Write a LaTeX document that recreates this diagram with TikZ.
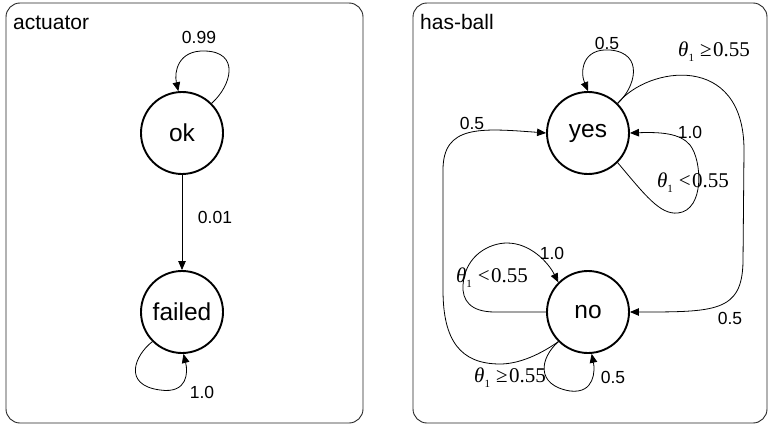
\documentclass[tikz,border=0pt]{standalone}
\usepackage{fontspec}
\setmainfont{Liberation Sans}
\newfontfamily\lblserif{Liberation Serif}
\usetikzlibrary{arrows.meta}

% condition labels: theta with subscript 1
\newcommand{\thetaone}{\textit{θ}\raisebox{-0.5ex}{\fontsize{11}{11}\selectfont 1}}

\tikzset{
  panel/.style={draw=black!85, line width=0.9pt, rounded corners=14pt},
  title/.style={anchor=base west, inner sep=0pt, font=\fontsize{21}{25}\selectfont},
  state/.style={circle, draw, line width=1.9pt, minimum size=82pt, inner sep=0pt,
                font=\fontsize{24.5}{28}\selectfont},
  trans/.style={line width=0.8pt, -{Triangle[length=9pt,width=7.5pt]}},
  prob/.style={inner sep=0pt, font=\fontsize{17.5}{20}\selectfont},
  cond/.style={inner sep=0pt, font=\lblserif\fontsize{21}{24}\selectfont}
}

\begin{document}
\begin{tikzpicture}[x=1pt, y=-1pt]
  \useasboundingbox[fill=white] (0,0) rectangle (768,425);

  % ---------- actuator ----------
  \draw[panel] (6,3) rectangle (363,423);
  \node[title] (t1) at (13,30) {actuator};

  \node[state] (ok) at (182,133) {ok};
  \node[state] (failed) at (182,312) {failed};

  \draw[trans] (ok.45) .. controls (232,85) and (240,52) .. (205,51)
                       .. controls (178,50) and (174,72) .. (ok.95);
  \node[prob] (p099) at (199,37) {0.99};

  \draw[trans] (ok) -- (failed);
  \node[prob] (p001) at (215,217) {0.01};

  \draw[trans] (failed.225) .. controls (135,355) and (122,385) .. (160,390)
                            .. controls (188,394) and (188,372) .. (failed.-88);
  \node[prob] (p10a) at (202,392) {1.0};

  % ---------- has-ball ----------
  \draw[panel] (413,3) rectangle (767,423);
  \node[title] (t2) at (420,30) {has-ball};

  \node[state] (yes) at (588,133) {yes};
  \node[state] (no) at (588,312) {no};

  % yes, theta >= 0.55
  \draw[trans] (yes.45) .. controls (635,88) and (645,53) .. (610,50)
                        .. controls (582,48) and (580,72) .. (yes.north);
  \node[prob] (py1) at (607,43) {0.5};
  \draw[trans] (yes.45) .. controls (648,66) and (744,52) .. (744,150)
                        -- (743,262) .. controls (742,312) and (715,312) .. (no.east);
  \node[cond] (cy1) at (714,52) {\thetaone\hspace{6pt}≥\hspace{1.5pt}0.55};
  \node[prob] (py2) at (730,318) {0.5};

  % yes, theta < 0.55
  \draw[trans] (yes.-45) .. controls (645,195) and (660,215) .. (678,213)
                         .. controls (705,210) and (702,160) .. (690,145)
                         .. controls (680,133) and (660,132) .. (yes.east);
  \node[prob] (py3) at (690,132) {1.0};
  \node[cond] (cy2) at (693,183) {\thetaone\hspace{6pt}<\hspace{1.5pt}0.55};

  % no, theta < 0.55
  \draw[trans] (no.west) -- (495,312) .. controls (470,312) and (462,300) .. (463,285)
                         .. controls (465,255) and (490,243) .. (507,243)
                         .. controls (530,243) and (548,262) .. (no.135);
  \node[prob] (pn1) at (552,253) {1.0};
  \node[cond] (cn1) at (492,278) {\thetaone\hspace{6pt}<\hspace{1.5pt}0.55};

  % no, theta >= 0.55
  \draw[trans] (no.225) .. controls (535,358) and (515,364) .. (500,364)
                        .. controls (460,364) and (443,340) .. (443,290)
                        -- (443,170) .. controls (443,125) and (480,128) .. (yes.west);
  \node[prob] (pn2) at (472,123) {0.5};
  \draw[trans] (no.225) .. controls (540,358) and (535,385) .. (570,391)
                        .. controls (595,394) and (595,370) .. (no.-85);
  \node[prob] (pn3) at (613,377) {0.5};
  \node[cond] (cn2) at (510,378) {\thetaone\hspace{6pt}≥\hspace{1.5pt}0.55};
\end{tikzpicture}
\end{document}
